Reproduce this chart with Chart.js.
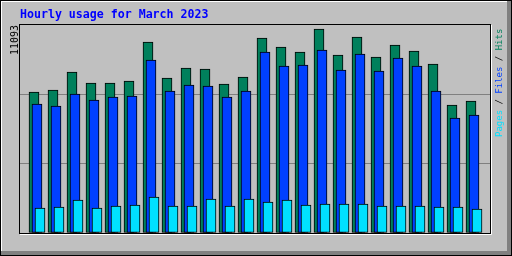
<!DOCTYPE html>
<html>
<head>
<meta charset="utf-8">
<script src="https://cdn.jsdelivr.net/npm/chart.js@4"></script>
<style>
  html, body { margin: 0; padding: 0; background: #C0C0C0; }
  #wrap { width: 512px; height: 256px; }
</style>
</head>
<body>
<div id="wrap"><canvas id="hourChart" width="512" height="256"></canvas></div>
<script>
// hourly totals
const hours = [0, 1, 2, 3, 4, 5, 6, 7, 8, 9, 10, 11, 12, 13, 14, 15, 16, 17, 18, 19, 20, 21, 22, 23];
const hits = [7668, 7776, 8755, 8157, 8157, 8266, 10387, 8429, 8973, 8918, 8103, 8483,
              10604, 10115, 9843, 11093, 9680, 10658, 9571, 10223, 9897, 9190, 6961, 7178];
const files = [7015, 6906, 7559, 7233, 7396, 7450, 9408, 7722, 8048, 7994, 7396, 7722,
               9843, 9081, 9136, 9952, 8864, 9734, 8810, 9517, 9081, 7722, 6254, 6417];
const pages = [1360, 1414, 1795, 1360, 1468, 1523, 1958, 1468, 1468, 1849, 1468, 1849,
               1686, 1795, 1523, 1577, 1577, 1577, 1468, 1468, 1468, 1414, 1414, 1305];
const maxLabel = '11093';
const titleText = 'Hourly usage for March 2023';

// webalizer colours
const HIT_COLOR = '#00805C';
const FILE_COLOR = '#0040FF';
const PAGE_COLOR = '#00E0FF';
const MONO = "'DejaVu Sans Mono', monospace";

// scale setup: 19px per hour over a 470px plot, bars overlap by 3px steps
const Y_MAX = 11311;
const GRID_STEP = Y_MAX * 0.332;
const X_MIN = -17 / 19;
const X_SPAN = 470 / 19;
const SHIFT = 3 / 19;

Chart.defaults.font.family = MONO;

// background, bevel and the inset frame round the plot
const framePlugin = {
    id: 'frame',
    beforeDraw(chart) {
        const ctx = chart.ctx;
        const w = chart.width, h = chart.height;
        ctx.save();
        ctx.fillStyle = '#C0C0C0';
        ctx.fillRect(0, 0, w, h);
        ctx.fillStyle = '#808080';
        ctx.fillRect(0, h - 5, w, 5);
        ctx.fillRect(w - 5, 0, 5, h);
        ctx.fillStyle = '#FFFFFF';
        ctx.fillRect(0, 0, w - 5, 2);
        ctx.fillRect(0, 0, 2, h - 5);
        ctx.strokeStyle = '#000000';
        ctx.lineWidth = 1;
        ctx.strokeRect(0.5, 0.5, w - 1, h - 1);
        ctx.restore();
    },
    afterDatasetsDraw(chart) {
        const ctx = chart.ctx;
        const a = chart.chartArea;
        ctx.save();
        ctx.lineWidth = 1;
        ctx.strokeStyle = '#FFFFFF';
        ctx.beginPath();
        ctx.moveTo(a.right + 1.5, a.top);
        ctx.lineTo(a.right + 1.5, a.bottom + 1.5);
        ctx.lineTo(a.left, a.bottom + 1.5);
        ctx.stroke();
        ctx.strokeStyle = '#000000';
        ctx.strokeRect(a.left - 0.5, a.top - 0.5, a.right - a.left + 1, a.bottom - a.top + 1);
        ctx.restore();
    },
    afterDraw(chart) {
        // coloured "Pages / Files / Hits" key, reading upwards
        const ctx = chart.ctx;
        const a = chart.chartArea;
        const parts = [['Pages', PAGE_COLOR], [' / ', '#000000'], ['Files', FILE_COLOR],
                       [' / ', '#000000'], ['Hits', HIT_COLOR]];
        ctx.save();
        ctx.translate(a.right + 10, 137);
        ctx.rotate(-Math.PI / 2);
        ctx.font = '9px ' + MONO;
        ctx.textAlign = 'left';
        ctx.textBaseline = 'middle';
        let x = 0;
        parts.forEach(([t, c]) => {
            ctx.fillStyle = c;
            ctx.fillText(t, x, 0);
            x += ctx.measureText(t).width;
        });
        ctx.restore();
    }
};

function barSet(label, values, color, axis) {
    return {
        label: label,
        data: values,
        xAxisID: axis,
        backgroundColor: color,
        borderColor: '#000000',
        borderWidth: 1,
        borderSkipped: false,
        barThickness: 10,
        grouped: false
    };
}

// linear hour axis with fixed bounds (no nice rounding, no bar offset)
const hourAxis = (shift, shown) => ({
    type: 'linear',
    display: shown,
    offset: false,
    bounds: 'data',
    min: X_MIN + shift,
    max: X_MIN + shift + X_SPAN
});

const filesAxis = Object.assign(hourAxis(0, true), {
    grid: { display: false, drawTicks: false },
    border: { display: false },
    ticks: {
        stepSize: 1,
        includeBounds: false,
        autoSkip: false,
        maxRotation: 0,
        align: 'end',
        labelOffset: 7,
        padding: 7,
        color: '#000000',
        font: { size: 10 },
        callback: (v) => (hours[v] !== undefined ? String(hours[v]) : '')
    },
    afterFit(scale) { scale.height = 23; }
});

// only the two inner grid lines are drawn
const gridColor = (c) => {
    const v = c.tick.value;
    return v > 0 && v < GRID_STEP * 2.5 ? '#808080' : 'rgba(0,0,0,0)';
};

new Chart(document.getElementById('hourChart'), {
    type: 'bar',
    data: {
        labels: hours,
        datasets: [
            // first dataset is painted last, so pages sit in front
            barSet('Pages', pages, PAGE_COLOR, 'xPages'),
            barSet('Files', files, FILE_COLOR, 'x'),
            barSet('Hits', hits, HIT_COLOR, 'xHits')
        ]
    },
    options: {
        responsive: false,
        animation: false,
        devicePixelRatio: 1,
        layout: { padding: { left: 0, right: 22, top: 0, bottom: 0 } },
        scales: {
            x: filesAxis,
            xHits: hourAxis(SHIFT, false),
            xPages: hourAxis(-SHIFT, false),
            y: {
                min: 0,
                max: Y_MAX,
                bounds: 'data',
                ticks: { display: false, stepSize: GRID_STEP, includeBounds: false },
                grid: { drawTicks: false, color: gridColor },
                border: { display: false },
                title: {
                    display: true,
                    text: maxLabel,
                    align: 'end',
                    color: '#000000',
                    font: { size: 10 },
                    padding: { top: 9, bottom: 0 }
                },
                afterFit(scale) { scale.width = 20; }
            }
        },
        plugins: {
            legend: { display: false },
            tooltip: { enabled: false },
            title: {
                display: true,
                text: titleText,
                align: 'start',
                fullSize: false,
                color: '#0000FF',
                font: { size: 11.6, weight: 'bold', lineHeight: '14px' },
                padding: { top: 8, bottom: 3 }
            }
        }
    },
    plugins: [framePlugin]
});
</script>
</body>
</html>
